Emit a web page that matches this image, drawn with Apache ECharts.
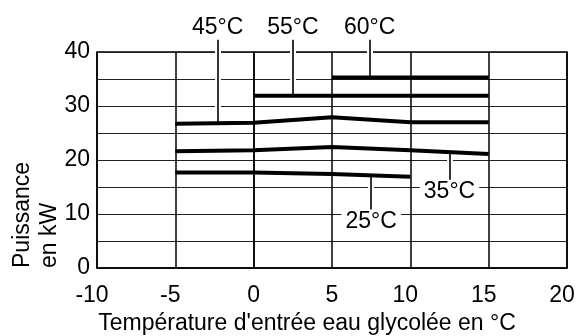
<!DOCTYPE html>
<html>
<head>
<meta charset="utf-8">
<script src="https://cdn.jsdelivr.net/npm/echarts@6/dist/echarts.min.js"></script>
<style>html,body{margin:0;padding:0;background:#fff}#c{width:576px;height:336px}</style>
</head>
<body>
<div id="c"></div>
<script>
// Data
const xPts = [-5, 0, 5, 10, 15];
const p25 = [17.7, 17.7, 17.4, 16.9, null];
const p35 = [21.6, 21.8, 22.4, 21.8, 21.1];
const p45 = [26.7, 26.9, 27.9, 27.0, 27.0];
const p55 = [null, 31.9, 31.9, 31.9, 31.9];
const p60 = [null, null, 35.3, 35.3, 35.3];
const seriesVals = [p25, p35, p45, p55, p60];

// Annotations (data units)
const annNames = ['25°C', '35°C', '45°C', '55°C', '60°C'];
const annX = [7.5, 12.5, -2.3, 2.5, 7.4];
const annLineY = [17.15, 21.45, 26.8, 31.9, 35.3];
const annEndY = [8.6, 14.1, 42.5, 42.5, 42.5];
const annTextY = [8.6, 14.1, 44.5, 44.5, 44.5];

const xTicks = { min: -10, max: 20, step: 5 };
const yTicks = { min: 0, max: 40, step: 5, labelStep: 10 };

const FONT = 'Liberation Sans, Arial, sans-serif';
const FS = 23;

const chart = echarts.init(document.getElementById('c'), null, { renderer: 'canvas' });

const leaderCoords = annX.map((x, i) => ({ coords: [[x, annLineY[i]], [x, annEndY[i]]] }));

const series = [];
series.push({
  type: 'lines', coordinateSystem: 'cartesian2d', clip: false, z: 2, silent: true,
  lineStyle: { color: '#fff', width: 6, opacity: 1 },
  data: leaderCoords
});
seriesVals.forEach((vals) => {
  series.push({
    type: 'line', z: 3, showSymbol: false, silent: true, clip: false,
    lineStyle: { color: '#000', width: 4, cap: 'butt', join: 'bevel' },
    itemStyle: { color: '#000' },
    data: xPts.map((x, i) => [x, vals[i]]).filter(d => d[1] !== null)
  });
});
series.push({
  type: 'lines', coordinateSystem: 'cartesian2d', clip: false, z: 4, silent: true,
  lineStyle: { color: '#000', width: 1.6, opacity: 1 },
  data: leaderCoords
});
series.push({
  type: 'scatter', z: 5, symbolSize: 0, clip: false, silent: true,
  itemStyle: { opacity: 1, color: '#000' },
  data: annX.map((x, i) => ({ value: [x, annTextY[i]], name: annNames[i] })),
  label: {
    show: true, position: 'inside', formatter: p => p.name,
    fontFamily: FONT, fontSize: FS, color: '#000', opacity: 1,
    backgroundColor: '#fff', padding: [1, 4, 0, 4]
  }
});

chart.setOption({
  animation: false,
  backgroundColor: '#fff',
  grid: { left: 97, right: 9, top: 52, bottom: 68, show: true, borderColor: '#000', borderWidth: 1.5, outerBoundsMode: 'none', containLabel: false },
  xAxis: {
    type: 'value', min: xTicks.min, max: xTicks.max, interval: xTicks.step,
    axisLine: { show: true, lineStyle: { color: '#000', width: 1.5 } },
    axisTick: { show: false },
    splitLine: { show: true, lineStyle: { color: '#000', width: 1.5 } },
    axisLabel: {
      margin: 16, fontFamily: FONT, fontSize: FS, color: '#000',
      formatter: v => String(v).length >= 2 ? '{p|' + v + '}' : String(v),
      rich: { p: { padding: [0, 10, 0, 0], fontFamily: FONT, fontSize: FS, color: '#000' } }
    },
    name: "Température d'entrée eau glycolée en °C",
    nameLocation: 'middle', nameGap: 44,
    nameTextStyle: { fontFamily: FONT, fontSize: FS, color: '#000', padding: [0, 50, 0, 0] }
  },
  yAxis: {
    type: 'value', min: yTicks.min, max: yTicks.max, interval: yTicks.step,
    axisLine: { show: true, lineStyle: { color: '#000', width: 1.5 } },
    axisTick: { show: false },
    splitLine: { show: true, lineStyle: { color: '#222', width: 1.2 } },
    axisLabel: {
      margin: 7, fontFamily: FONT, fontSize: FS, color: '#000',
      formatter: v => (v % yTicks.labelStep === 0 ? String(v) : '')
    }
  },
  graphic: [{
    type: 'text', x: 36, y: 268, rotation: Math.PI / 2, silent: true,
    style: { text: 'Puissance\nen kW', font: FS + 'px ' + FONT, fill: '#000', align: 'left', verticalAlign: 'middle', lineHeight: 27 }
  }],
  series: series
});
</script>
</body>
</html>
